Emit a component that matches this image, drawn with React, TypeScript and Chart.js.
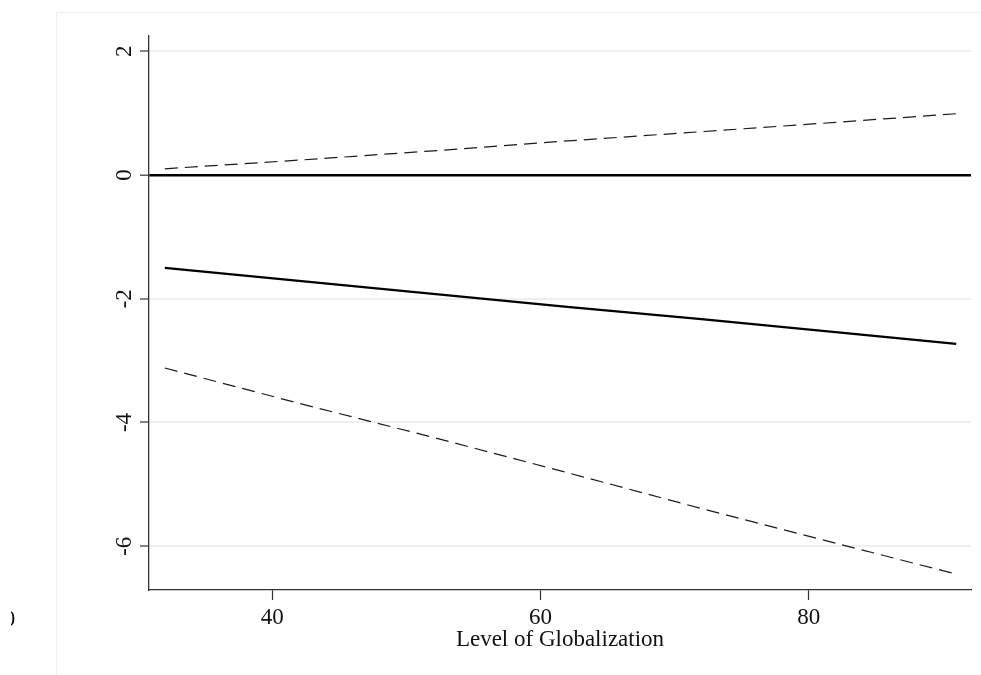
import React, { useEffect, useRef } from "react";
import { Chart, registerables } from "chart.js";

Chart.register(...registerables);

// ---- data ----
const GLOBALIZATION = [32, 42, 52, 62, 72, 82, 91];
const MARGINAL_EFFECT = [-1.5, -1.71, -1.92, -2.13, -2.33, -2.54, -2.73];
const UPPER_CI = [0.1, 0.24, 0.39, 0.55, 0.7, 0.85, 0.99];
const LOWER_CI = [-3.12, -3.69, -4.24, -4.81, -5.39, -5.95, -6.45];

const X_TICKS = [40, 60, 80];
const X_EXTRA_TICK = 20; // clipped label at the far left edge
const Y_TICKS = [-6, -4, -2, 0, 2];
const X_RANGE = [30.82, 92.1];
const Y_RANGE = [-6.707, 2.246];
const X_TITLE = "Level of Globalization";

const FONT = "'Liberation Serif', 'Times New Roman', serif";

const toPoints = (ys: number[]) => GLOBALIZATION.map((x, i) => ({ x, y: ys[i] }));

const decorPlugin = {
  id: "decor",
  beforeDraw(chart: any) {
    const { ctx } = chart;
    ctx.save();
    ctx.strokeStyle = "#eeeeee";
    ctx.lineWidth = 1;
    ctx.beginPath();
    ctx.moveTo(56.5, 675);
    ctx.lineTo(56.5, 12.5);
    ctx.lineTo(981, 12.5);
    ctx.stroke();
    ctx.restore();
  },
  afterDraw(chart: any) {
    const { ctx } = chart;
    const ys = chart.scales.y;
    const xs = chart.scales.x;
    ctx.save();
    ctx.fillStyle = "#111";
    ctx.font = `23px ${FONT}`;
    ctx.textAlign = "center";
    ctx.textBaseline = "alphabetic";
    ys.ticks.forEach((t: any) => {
      const py = ys.getPixelForValue(t.value);
      ctx.save();
      ctx.translate(131, py);
      ctx.rotate(-Math.PI / 2);
      ctx.fillText(String(t.value), 0, 0);
      ctx.restore();
    });
    // clipped leftover label
    ctx.save();
    ctx.beginPath();
    ctx.rect(11, 590, 60, 60);
    ctx.clip();
    ctx.fillText(String(X_EXTRA_TICK), xs.getPixelForValue(X_EXTRA_TICK), 626);
    ctx.restore();
    ctx.restore();
  },
};

export default function App() {
  const ref = useRef<HTMLCanvasElement | null>(null);

  useEffect(() => {
    if (!ref.current) return;
    const chart = new Chart(ref.current, {
      type: "line",
      data: {
        datasets: [
          {
            label: "Upper CI",
            data: toPoints(UPPER_CI),
            borderColor: "#1a1a1a",
            borderWidth: 1.2,
            borderDash: [13, 7],
            pointRadius: 0,
            tension: 0,
          },
          {
            label: "Marginal effect",
            data: toPoints(MARGINAL_EFFECT),
            borderColor: "#000",
            borderWidth: 2.2,
            pointRadius: 0,
            tension: 0,
          },
          {
            label: "Lower CI",
            data: toPoints(LOWER_CI),
            borderColor: "#1a1a1a",
            borderWidth: 1.2,
            borderDash: [13, 7],
            pointRadius: 0,
            tension: 0,
          },
        ],
      },
      options: {
        responsive: false,
        animation: false,
        events: [],
        layout: { padding: { left: 0, top: 36, right: 10, bottom: 0 } },
        plugins: {
          legend: { display: false },
          tooltip: { enabled: false },
          title: { display: false },
        },
        scales: {
          x: {
            type: "linear",
            min: X_RANGE[0],
            max: X_RANGE[1],
            afterBuildTicks: (s: any) => {
              s.ticks = X_TICKS.map((v) => ({ value: v }));
            },
            afterFit: (s: any) => {
              s.height = 85;
            },
            grid: {
              drawOnChartArea: false,
              drawTicks: true,
              tickLength: 10,
              tickColor: "#333",
              tickWidth: 1.2,
            },
            border: { color: "#333", width: 1.3 },
            ticks: {
              color: "#111",
              font: { family: FONT, size: 23 },
              padding: 4,
              maxRotation: 0,
              minRotation: 0,
            },
            title: {
              display: true,
              text: X_TITLE,
              color: "#111",
              font: { family: FONT, size: 23 },
              padding: { top: 0, bottom: 21 },
            },
          },
          y: {
            type: "linear",
            min: Y_RANGE[0],
            max: Y_RANGE[1],
            afterBuildTicks: (s: any) => {
              s.ticks = Y_TICKS.map((v) => ({ value: v }));
            },
            afterFit: (s: any) => {
              s.width = 149;
            },
            grid: {
              color: (c: any) => (c.tick && c.tick.value === 0 ? "#000" : "#e9f1f3"),
              lineWidth: (c: any) => (c.tick && c.tick.value === 0 ? 2.4 : 2),
              drawTicks: true,
              tickLength: 9,
              tickColor: "#333",
              tickWidth: 1.2,
            },
            border: { color: "#333", width: 1.3 },
            ticks: { display: false },
          },
        },
      },
      plugins: [decorPlugin],
    });
    return () => chart.destroy();
  }, []);

  return (
    <div style={{ position: "fixed", left: 0, top: 0, width: 981, height: 675, background: "#fff" }}>
      <canvas ref={ref} width={981} height={675} style={{ display: "block" }} />
    </div>
  );
}
